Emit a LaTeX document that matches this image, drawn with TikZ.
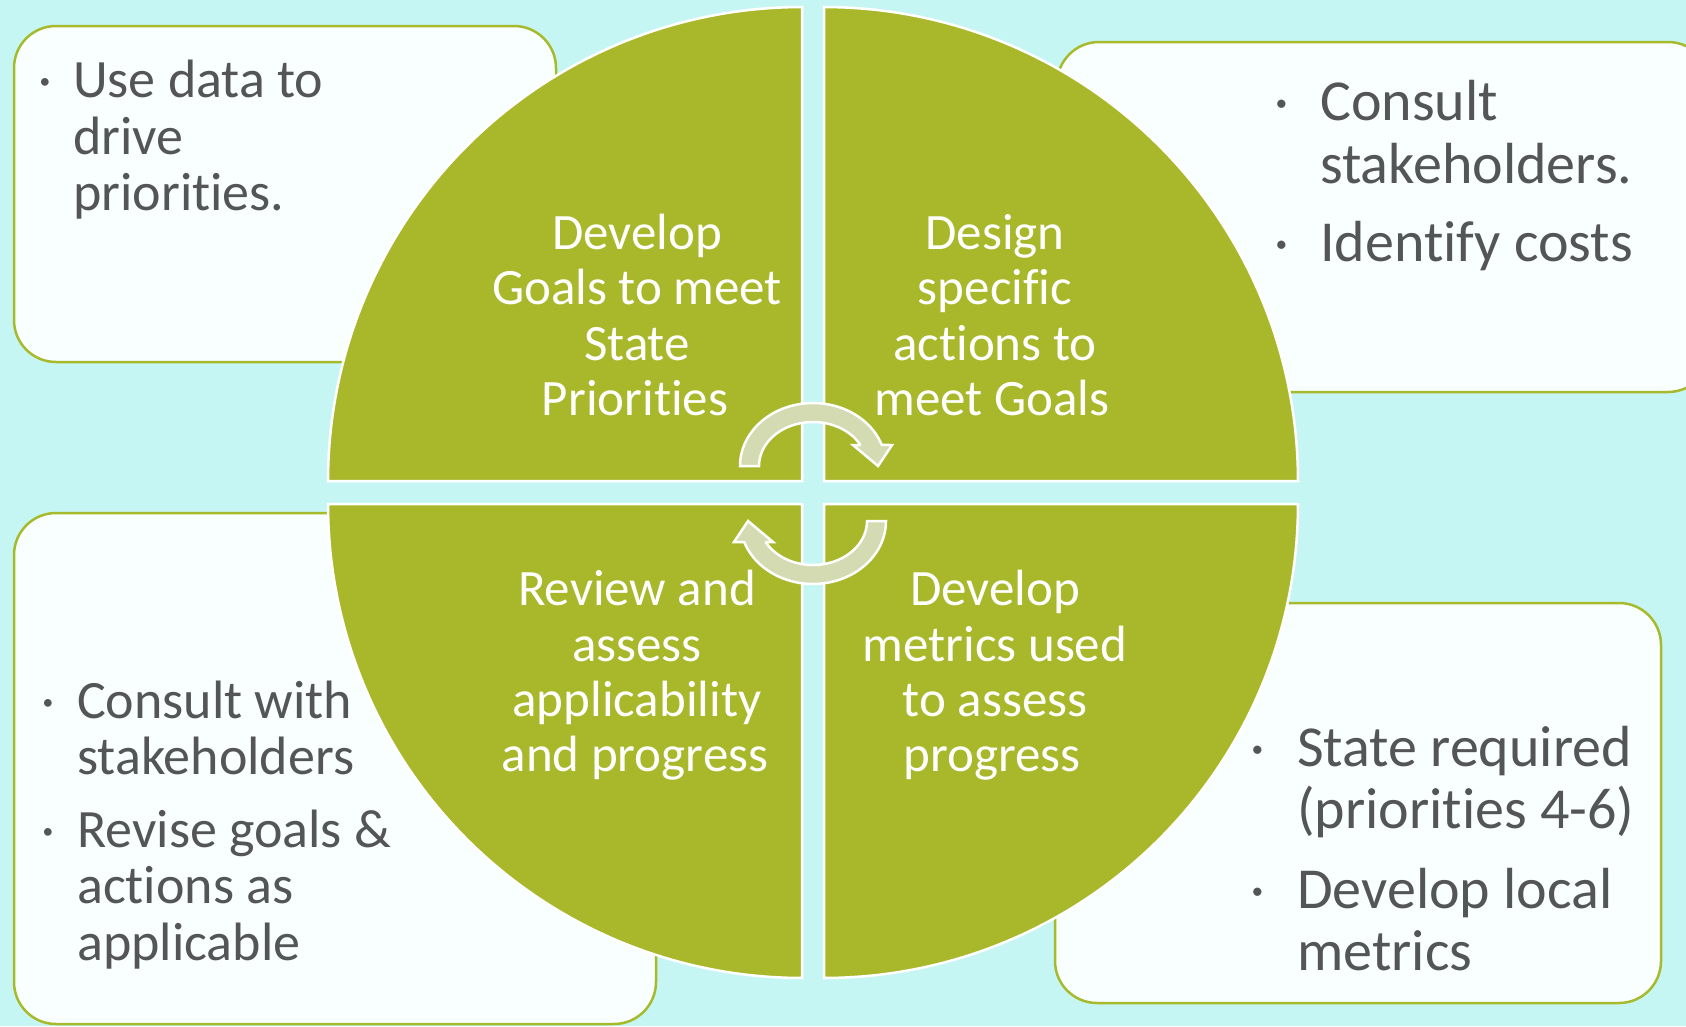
\documentclass[tikz,border=0pt]{standalone}
\usepackage{fontspec}
\setmainfont[Ligatures={NoCommon,NoContextual}]{Carlito}
\definecolor{bgc}{HTML}{C6F6F3}
\definecolor{quadc}{HTML}{A8B82A}
\definecolor{boxline}{HTML}{A6BA2C}
\definecolor{boxfill}{HTML}{F9FEFE}
\definecolor{txtgray}{HTML}{545557}
\definecolor{arrowc}{HTML}{D4DBB2}
\begin{document}
\begin{tikzpicture}[x=1pt,y=-1pt,
  box/.style={draw=boxline, line width=2.5pt, fill=boxfill, rounded corners=42pt},
  quad/.style={fill=quadc, draw=white, line width=2.5pt},
  cyc/.style={fill=arrowc, draw=white, line width=2.5pt, line join=miter},
  txtS/.style={anchor=base west, inner sep=0pt, text=txtgray, font=\fontsize{54}{56}\selectfont},
  txtL/.style={anchor=base west, inner sep=0pt, text=txtgray, font=\fontsize{58}{60}\selectfont},
  bulS/.style={anchor=base, inner sep=0pt, text=txtgray, font=\fontsize{54}{56}\selectfont},
  bulL/.style={anchor=base, inner sep=0pt, text=txtgray, font=\fontsize{58}{60}\selectfont},
  ctxt/.style={anchor=base, inner sep=0pt, text=white, font=\fontsize{51}{55}\selectfont}]
\useasboundingbox (0,0) rectangle (1686,1026);
\fill[bgc] (0,0) rectangle (1686,1026);
\clip (0,0) rectangle (1686,1026);

% side boxes
\path[box] (14,26) rectangle (556,362);
\path[box] (1057,42) rectangle (1710,392);
\path[box] (14,513) rectangle (656,1024);
\path[box] (1055,603) rectangle (1661,1003);

% quadrants
\path[quad] (802,481) -- plot[domain=180:270, samples=80] ({802+474*cos(\x)},{481+474*sin(\x)}) -- cycle;
\path[quad] (824,481) -- plot[domain=270:360, samples=80] ({824+474*cos(\x)},{481+474*sin(\x)}) -- cycle;
\path[quad] (824,504) -- plot[domain=0:90, samples=80] ({824+474*cos(\x)},{504+474*sin(\x)}) -- cycle;
\path[quad] (802,504) -- plot[domain=90:180, samples=80] ({802+474*cos(\x)},{504+474*sin(\x)}) -- cycle;

% cycle arrows
\path[cyc] (740,466) -- plot[domain=180:340.5, samples=50] ({813+73*cos(\x)},{466+63*sin(\x)})
  -- (892,445) -- (878,466) -- (853,445) -- (860.5,445)
  -- plot[domain=180:331.5, samples=50] ({813+54*cos(511.5-\x)},{466+44*sin(511.5-\x)}) -- cycle;
\begin{scope}[rotate around={180:(813,493.5)}]
\path[cyc] (740,466) -- plot[domain=180:340.5, samples=50] ({813+73*cos(\x)},{466+63*sin(\x)})
  -- (892,445) -- (878,466) -- (853,445) -- (860.5,445)
  -- plot[domain=180:331.5, samples=50] ({813+54*cos(511.5-\x)},{466+44*sin(511.5-\x)}) -- cycle;
\end{scope}

% box 1 text
\node[bulS] (b1d1) at (45,97) {·};
\node[txtS] (b1l1) at (73,97) {Use data to};
\node[txtS] (b1l2) at (73,154) {drive};
\node[txtS] (b1l3) at (73,210) {priorities.};

% box 2 text
\node[bulL] (b2d1) at (1282,120) {·};
\node[txtL] (b2l1) at (1320,120) {Consult};
\node[txtL] (b2l2) at (1320,183) {stakeholders.};
\node[bulL] (b2d2) at (1282,261) {·};
\node[txtL] (b2l3) at (1320,261) {Identify costs};

% box 3 text
\node[bulS] (b3d1) at (48,718) {·};
\node[txtS] (b3l1) at (77,718) {Consult with};
\node[txtS] (b3l2) at (77,774) {stakeholders};
\node[bulS] (b3d2) at (48,847) {·};
\node[txtS] (b3l3) at (77,847) {Revise goals \&};
\node[txtS] (b3l4) at (77,903) {actions as};
\node[txtS] (b3l5) at (77,960) {applicable};

% box 4 text
\node[bulL] (b4d1) at (1258,766) {·};
\node[txtL] (b4l1) at (1297,766) {State required};
\node[txtL] (b4l2) at (1297,828) {(priorities 4-6)};
\node[bulL] (b4d2) at (1258,908) {·};
\node[txtL] (b4l3) at (1297,908) {Develop local};
\node[txtL] (b4l4) at (1297,970) {metrics};

% quadrant texts
\node[ctxt] (q1a) at (637,249) {Develop};
\node[ctxt] (q1b) at (637,304) {Goals to meet};
\node[ctxt] (q1c) at (637,360) {State};
\node[ctxt] (q1d) at (635,415) {Priorities};

\node[ctxt] (q2a) at (995,249) {Design};
\node[ctxt] (q2b) at (995,304) {specific};
\node[ctxt] (q2c) at (995,360) {actions to};
\node[ctxt] (q2d) at (992,415) {meet Goals};

\node[ctxt] (q3a) at (637,605) {Review and};
\node[ctxt] (q3b) at (637,661) {assess};
\node[ctxt] (q3c) at (637,716) {applicability};
\node[ctxt] (q3d) at (635,771) {and progress};

\node[ctxt] (q4a) at (995,605) {Develop};
\node[ctxt] (q4b) at (995,661) {metrics used};
\node[ctxt] (q4c) at (995,716) {to assess};
\node[ctxt] (q4d) at (992,771) {progress};
\end{tikzpicture}
\end{document}
